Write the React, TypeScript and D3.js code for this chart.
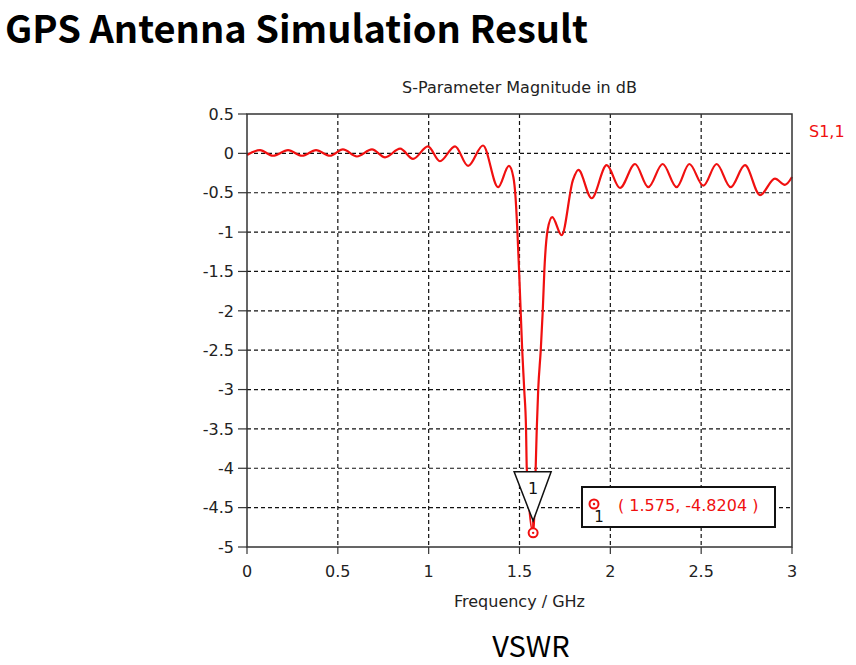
import React from "react";
import * as d3 from "d3";

// S1,1 magnitude (GHz, dB)
const freqGHz = [
  0.0, 0.072, 0.143, 0.226, 0.303, 0.38, 0.457, 0.528, 0.605, 0.688, 0.76, 0.843,
  0.914, 0.996, 1.062, 1.145, 1.217, 1.299, 1.382, 1.442, 1.466, 1.478, 1.488,
  1.497, 1.504, 1.515, 1.526, 1.536, 1.54, 1.575, 1.589, 1.595, 1.603, 1.617,
  1.628, 1.637, 1.655, 1.68, 1.732, 1.794, 1.824, 1.897, 1.98, 2.053, 2.136,
  2.209, 2.288, 2.365, 2.435, 2.512, 2.585, 2.662, 2.741, 2.824, 2.906, 2.961, 3.0,
];
const s11dB = [
  -0.02, 0.04, -0.03, 0.04, -0.03, 0.04, -0.03, 0.05, -0.04, 0.05, -0.05, 0.06,
  -0.07, 0.09, -0.1, 0.09, -0.16, 0.1, -0.43, -0.16, -0.3, -0.55, -0.97,
  -1.45, -1.86, -2.5, -3.0, -3.5, -4.0, -4.82, -4.0, -3.5, -3.0, -2.5,
  -2.0, -1.48, -0.97, -0.81, -1.04, -0.34, -0.21, -0.57, -0.15, -0.44, -0.135,
  -0.43, -0.135, -0.43, -0.135, -0.41, -0.135, -0.43, -0.15, -0.53, -0.32, -0.4, -0.3,
];

const xTicks = [0, 0.5, 1, 1.5, 2, 2.5, 3];
const yTicks = [0.5, 0, -0.5, -1, -1.5, -2, -2.5, -3, -3.5, -4, -4.5, -5];

const markerFreq = 1.575;
const markerValue = -4.8204;
const markerLabel = "( 1.575, -4.8204 )";

const W = 856;
const H = 665;
const plot = { left: 247, right: 792, top: 114, bottom: 547 };
const RED = "#f01010";
const FONT = "DejaVu Sans, Verdana, sans-serif";

export default function App() {
  const x = d3.scaleLinear().domain([0, 3]).range([plot.left, plot.right]);
  const y = d3.scaleLinear().domain([-5, 0.5]).range([plot.bottom, plot.top]);

  const points: [number, number][] = freqGHz.map((f, i) => [f, s11dB[i]]);
  const line = d3
    .line<[number, number]>()
    .x((d) => x(d[0]))
    .y((d) => y(d[1]))
    .curve(d3.curveMonotoneX);

  const mx = x(markerFreq);
  const my = y(markerValue);

  return (
    <svg
      width={W}
      height={H}
      style={{ position: "absolute", left: 0, top: 0, background: "#fff" }}
    >
      <rect width={W} height={H} fill="#fff" />

      <text
        x={5}
        y={43}
        fontFamily="Noto Sans CJK KR, Noto Sans, sans-serif"
        fontWeight={700}
        fontSize={38}
        fill="#000"
      >
        GPS Antenna Simulation Result
      </text>

      <text x={(plot.left + plot.right) / 2} y={93} textAnchor="middle" fontFamily={FONT} fontSize={16} fill="#222">
        S-Parameter Magnitude in dB
      </text>

      {/* grid */}
      {xTicks.slice(1, -1).map((t) => (
        <line key={"gx" + t} x1={x(t)} x2={x(t)} y1={plot.top} y2={plot.bottom} stroke="#111" strokeWidth={1.2} strokeDasharray="4,3" />
      ))}
      {yTicks.slice(1, -1).map((t) => (
        <line key={"gy" + t} x1={plot.left} x2={plot.right} y1={y(t)} y2={y(t)} stroke="#111" strokeWidth={1.2} strokeDasharray="4,3" />
      ))}

      {/* curve */}
      <path d={line(points) ?? ""} fill="none" stroke={RED} strokeWidth={2.2} strokeLinejoin="round" />

      {/* frame */}
      <rect x={plot.left} y={plot.top} width={plot.right - plot.left} height={plot.bottom - plot.top} fill="none" stroke="#333" strokeWidth={1.5} />

      {/* y axis ticks */}
      {yTicks.map((t) => (
        <g key={"ty" + t}>
          <line x1={plot.left - 9} x2={plot.left} y1={y(t)} y2={y(t)} stroke="#333" strokeWidth={1.2} />
          <text x={plot.left - 13} y={y(t)} dy="0.36em" textAnchor="end" fontFamily={FONT} fontSize={16} fill="#222">
            {t}
          </text>
        </g>
      ))}

      {/* x axis ticks */}
      {xTicks.map((t) => (
        <g key={"tx" + t}>
          <line x1={x(t)} x2={x(t)} y1={plot.bottom} y2={plot.bottom + 7} stroke="#333" strokeWidth={1.2} />
          <text x={x(t)} y={plot.bottom + 30} textAnchor="middle" fontFamily={FONT} fontSize={16} fill="#222">
            {t}
          </text>
        </g>
      ))}

      <text x={(plot.left + plot.right) / 2} y={607} textAnchor="middle" fontFamily={FONT} fontSize={16} fill="#222">
        Frequency / GHz
      </text>

      <text x={809} y={137} fontFamily={FONT} fontSize={16} fill={RED}>
        S1,1
      </text>

      {/* marker triangle */}
      <line x1={mx} x2={mx} y1={my - 12} y2={my - 4} stroke={RED} strokeWidth={2} />
      <path
        d={`M${mx - 19},${my - 61} L${mx + 18},${my - 61} L${mx},${my - 12} Z`}
        fill="#fff"
        stroke="#111"
        strokeWidth={1.5}
      />
      <text x={mx} y={my - 39} textAnchor="middle" fontFamily={FONT} fontSize={16} fill="#111">
        1
      </text>
      <circle cx={mx} cy={my} r={4.5} fill="#fff" stroke={RED} strokeWidth={2} />
      <circle cx={mx} cy={my} r={1.2} fill={RED} />

      {/* marker readout box */}
      <rect x={582} y={487} width={193} height={40} fill="#fff" stroke="#111" strokeWidth={2} />
      <circle cx={594} cy={504} r={4.5} fill="#fff" stroke={RED} strokeWidth={2} />
      <circle cx={594} cy={504} r={1.2} fill={RED} />
      <text x={599} y={522} textAnchor="middle" fontFamily={FONT} fontSize={15} fill="#111">
        1
      </text>
      <text x={618} y={511} fontFamily={FONT} fontSize={16} fill={RED}>
        {markerLabel}
      </text>

      <text
        x={531}
        y={657}
        textAnchor="middle"
        fontFamily="Noto Sans CJK KR, Noto Sans, sans-serif"
        fontSize={29}
        fill="#000"
      >
        VSWR
      </text>
    </svg>
  );
}
